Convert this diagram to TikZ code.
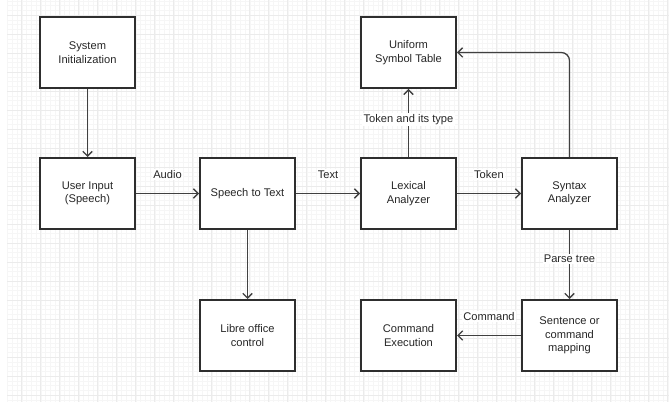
\documentclass[tikz,border=0pt]{standalone}
\usepackage{fontspec}
\setmainfont{Liberation Sans}
\usepackage{xcolor}
\usetikzlibrary{arrows.meta, positioning}

\begin{document}
\begin{tikzpicture}[
    x=0.03cm, y=-0.03cm,
    >={Straight Barb[length=4pt,width=8pt]},
    line width=1pt,
    font=\fontsize{9.5}{11.5}\selectfont,
    block/.style={draw=black!82, line width=1.7pt, fill=white, text=black!85,
        minimum width=2.85cm, minimum height=2.13cm, align=center, inner sep=2pt},
    arr/.style={->, draw=black!75, line width=1.1pt},
    lbl/.style={fill=white, text=black!85, inner sep=1pt},
    gridmajor/.style={draw=black!8, line width=0.4pt},
    gridminor/.style={draw=black!3.5, line width=0.3pt}
]

% =========================================================
% BACKGROUND: page and grid
% =========================================================
\useasboundingbox[fill=white] (0,0) rectangle (669,402);

\begin{scope}
\clip (7,0) rectangle (669,402);
\foreach \k in {0,...,140} {
    \draw[gridminor] ({2.7+4.75*\k},0) -- ({2.7+4.75*\k},402);
}
\foreach \k in {0,...,90} {
    \draw[gridminor] (7,{-4+4.75*\k}) -- (669,{-4+4.75*\k});
}
\foreach \k in {0,...,35} {
    \draw[gridmajor] ({2.7+19*\k},0) -- ({2.7+19*\k},402);
}
\foreach \k in {0,...,22} {
    \draw[gridmajor] (7,{-4+19*\k}) -- (669,{-4+19*\k});
}
\end{scope}

% =========================================================
% BLOCKS
% =========================================================
\node[block] (sysinit) at (87.5,52.5)  {System\\Initialization};
\node[block] (userin)  at (87.5,193.5) {User Input\\(Speech)};
\node[block] (stt)     at (247.5,193.5) {Speech to Text};
\node[block] (libre)   at (247.5,335.5) {Libre office\\control};
\node[block] (ust)     at (408.5,52.5)  {Uniform\\Symbol Table};
\node[block] (lexical) at (408.5,193.5) {Lexical\\Analyzer};
\node[block] (cmdexec) at (408.5,335.5) {Command\\Execution};
\node[block] (syntax)  at (569.5,193.5) {Syntax\\Analyzer};
\node[block] (mapping) at (569.5,335.5) {Sentence or\\command\\mapping};

% =========================================================
% CONNECTORS
% =========================================================
\draw[arr] (sysinit) -- (userin);
\draw[arr] (userin) -- node[lbl, midway, yshift=0.57cm] {Audio} (stt);
\draw[arr] (stt) -- node[lbl, midway, yshift=0.57cm] {Text} (lexical);
\draw[arr] (stt) -- (libre);
\draw[arr] (lexical) -- node[lbl, midway, yshift=0.57cm] {Token} (syntax);
\draw[arr] (lexical) -- node[lbl, pos=0.55] {Token and its type} (ust);
\draw[arr, rounded corners=7pt] (syntax.north) |- (ust.east);
\draw[arr] (syntax) -- node[lbl, pos=0.42] {Parse tree} (mapping);
\draw[arr] (mapping) -- node[lbl, midway, yshift=0.57cm] {Command} (cmdexec);

\end{tikzpicture}
\end{document}
